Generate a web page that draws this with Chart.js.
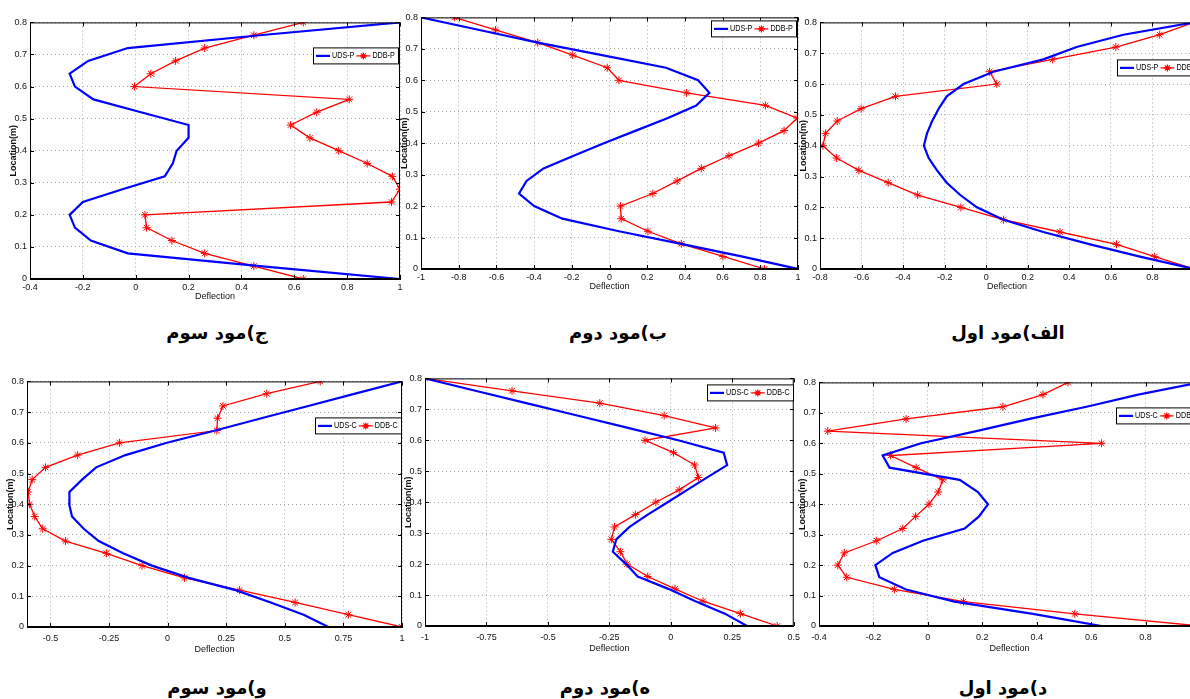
<!DOCTYPE html>
<html>
<head>
<meta charset="utf-8">
<script src="https://cdn.jsdelivr.net/npm/chart.js@4.4.0/dist/chart.umd.min.js"></script>
<style>
  html, body { margin: 0; padding: 0; background: #fff; }
  body { width: 1190px; height: 699px; overflow: hidden; position: relative; }
  .panel { position: absolute; }
  .caption {
    position: absolute; transform: translate(-50%, -50%);
    direction: rtl; white-space: nowrap;
    font: bold 18px "DejaVu Sans", "Noto Sans", sans-serif; color: #000;
  }
</style>
</head>
<body>
<script>
// location along the beam (m), shared by every curve
const loc = [0, 0.04, 0.08, 0.12, 0.16, 0.2, 0.24, 0.28, 0.32, 0.36, 0.4,
             0.44, 0.48, 0.52, 0.56, 0.6, 0.64, 0.68, 0.72, 0.76, 0.8];
const yTickVals = [0, 0.1, 0.2, 0.3, 0.4, 0.5, 0.6, 0.7, 0.8];

// top row, pinned (P)
// ج) mode 3
const udsP3 = [1.0, 0.47, -0.03, -0.17, -0.23, -0.25, -0.2, -0.05, 0.11, 0.14, 0.155,
               0.2, 0.2, 0.02, -0.16, -0.23, -0.25, -0.18, -0.03, 0.47, 1.0];
const ddbP3 = [0.634, 0.447, 0.261, 0.137, 0.041, 0.035, 0.968, 1.0, 0.971, 0.876, 0.768,
               0.659, 0.586, 0.685, 0.808, -0.005, 0.057, 0.151, 0.261, 0.447, 0.634];
// ب) mode 2
const udsP2 = [1.0, 0.7, 0.38, 0.05, -0.25, -0.4, -0.48, -0.44, -0.35, -0.19, -0.03,
               0.14, 0.31, 0.46, 0.53, 0.47, 0.3, -0.04, -0.38, -0.69, -1.0];
const ddbP2 = [0.823, 0.602, 0.381, 0.204, 0.062, 0.058, 0.23, 0.359, 0.487, 0.634, 0.791,
               0.926, 0.996, 0.827, 0.409, 0.05, -0.012, -0.195, -0.381, -0.605, -0.823];
// الف) mode 1
const udsP1 = [1.0, 0.74, 0.5, 0.275, 0.083, -0.045, -0.125, -0.19, -0.237, -0.277, -0.3,
               -0.285, -0.26, -0.229, -0.19, -0.109, 0.035, 0.275, 0.435, 0.66, 1.0];
const ddbP1 = [1.0, 0.811, 0.627, 0.355, 0.083, -0.122, -0.33, -0.472, -0.613, -0.72, -0.786,
               -0.773, -0.717, -0.602, -0.437, 0.051, 0.016, 0.32, 0.624, 0.835, 1.0];

// bottom row, clamped (C)
// و) mode 3
const udsC3 = [0.686, 0.58, 0.44, 0.29, 0.09, -0.067, -0.19, -0.294, -0.358, -0.408, -0.42,
               -0.419, -0.365, -0.305, -0.18, -0.003, 0.203, 0.4, 0.6, 0.8, 1.0];
const ddbC3 = [1.0, 0.771, 0.544, 0.307, 0.072, -0.109, -0.261, -0.436, -0.533, -0.567, -0.589,
               -0.595, -0.578, -0.521, -0.384, -0.205, 0.21, 0.213, 0.236, 0.423, 0.651];
// ه) mode 2
const udsC2 = [0.31, 0.22, 0.1, -0.01, -0.135, -0.182, -0.236, -0.222, -0.168, -0.094, -0.013,
               0.067, 0.148, 0.229, 0.215, 0.03, -0.174, -0.381, -0.588, -0.795, -1.0];
const ddbC2 = [0.433, 0.283, 0.131, 0.017, -0.094, -0.178, -0.205, -0.242, -0.229, -0.144, -0.061,
               0.034, 0.112, 0.097, 0.011, -0.105, 0.182, -0.027, -0.289, -0.646, -1.0];
// د) mode 1
const udsC1 = [0.638, 0.386, 0.098, -0.08, -0.178, -0.193, -0.129, -0.018, 0.135, 0.188, 0.221,
               0.184, 0.117, -0.141, -0.166, -0.025, 0.178, 0.374, 0.583, 0.773, 1.0];
const ddbC1 = [1.0, 0.54, 0.131, -0.123, -0.298, -0.331, -0.307, -0.188, -0.092, -0.045, 0.004,
               0.038, 0.055, -0.043, -0.137, 0.638, -0.368, -0.08, 0.276, 0.423, 0.515];

// x tick labels per panel
const xTicksP3 = [-0.4, -0.2, 0, 0.2, 0.4, 0.6, 0.8, 1];
const xTicksP2 = [-1, -0.8, -0.6, -0.4, -0.2, 0, 0.2, 0.4, 0.6, 0.8, 1];
const xTicksP1 = [-0.8, -0.6, -0.4, -0.2, 0, 0.2, 0.4, 0.6, 0.8];
const xTicksC3 = [-0.5, -0.25, 0, 0.25, 0.5, 0.75, 1];
const xTicksC2 = [-1, -0.75, -0.5, -0.25, 0, 0.25, 0.5];
const xTicksC1 = [-0.4, -0.2, 0, 0.2, 0.4, 0.6, 0.8];

// layout of each subplot: plot box [left, top, right, bottom] in page pixels
const panels = [
  { box: [30, 20, 400, 279], xMin: -0.4, xMax: 1, xTicks: xTicksP3, uds: udsP3, ddb: ddbP3,
    names: ['UDS-P', 'DDB-P'], legTop: 25, legRight: -2, caption: 'ج)مود سوم', cap: [217, 332], row: 0 },
  { box: [421, 15, 798, 269], xMin: -1, xMax: 1, xTicks: xTicksP2, uds: udsP2, ddb: ddbP2,
    names: ['UDS-P', 'DDB-P'], legTop: 3, legRight: -2, caption: 'ب)مود دوم', cap: [618, 332], row: 0 },
  { box: [820, 20, 1194, 269], xMin: -0.8, xMax: 1, xTicks: xTicksP1, uds: udsP1, ddb: ddbP1,
    names: ['UDS-P', 'DDB-P'], legTop: 37, legRight: 8, caption: 'الف)مود اول', cap: [1008, 332], row: 0 },
  { box: [27, 379, 402, 627], xMin: -0.6, xMax: 1, xTicks: xTicksC3, uds: udsC3, ddb: ddbC3,
    names: ['UDS-C', 'DDB-C'], legTop: 36, legRight: -1, caption: 'و)مود سوم', cap: [217, 687], row: 1 },
  { box: [425, 376, 796, 626], xMin: -1, xMax: 0.5, xTicks: xTicksC2, uds: udsC2, ddb: ddbC2,
    names: ['UDS-C', 'DDB-C'], legTop: 6, legRight: -1, caption: 'ه)مود دوم', cap: [605, 687], row: 1 },
  { box: [819, 380, 1200, 626], xMin: -0.4, xMax: 1, xTicks: xTicksC1, uds: udsC1, ddb: ddbC1,
    names: ['UDS-C', 'DDB-C'], legTop: 25, legRight: 2, caption: 'د)مود اول', cap: [1003, 687], row: 1 }
];

const FONT = '"Liberation Sans Narrow", "Liberation Sans", Arial, sans-serif';
const yW = 30, padTop = 6, padRight = 10;
const squeeze = 0.8; // legend text is condensed in the original

function drawStar(ctx, x, y, r) {
  ctx.beginPath();
  ctx.moveTo(x - r, y); ctx.lineTo(x + r, y);
  ctx.moveTo(x, y - r); ctx.lineTo(x, y + r);
  const d = r * 0.7071;
  ctx.moveTo(x - d, y - d); ctx.lineTo(x + d, y + d);
  ctx.moveTo(x - d, y + d); ctx.lineTo(x + d, y - d);
  ctx.stroke();
}

function squeezedText(ctx, s, x, y) {
  ctx.save();
  ctx.translate(x, y);
  ctx.scale(squeeze, 1);
  ctx.fillText(s, 0, 0);
  ctx.restore();
}

// box around the axes, inward tick marks and a matlab style legend
function makeFrame(p) {
  return {
    id: 'frame',
    afterDraw(chart) {
      const { ctx, chartArea: a, scales: { x, y } } = chart;
      ctx.save();
      ctx.strokeStyle = '#000';
      ctx.lineWidth = 1;
      ctx.strokeRect(a.left + 0.5, a.top + 0.5, a.right - a.left - 1, a.bottom - a.top - 1);
      ctx.beginPath();
      x.ticks.forEach(t => {
        const px = Math.round(x.getPixelForValue(t.value)) + 0.5;
        ctx.moveTo(px, a.bottom); ctx.lineTo(px, a.bottom - 4);
        ctx.moveTo(px, a.top); ctx.lineTo(px, a.top + 4);
      });
      y.ticks.forEach(t => {
        const py = Math.round(y.getPixelForValue(t.value)) + 0.5;
        ctx.moveTo(a.left, py); ctx.lineTo(a.left + 4, py);
        ctx.moveTo(a.right, py); ctx.lineTo(a.right - 4, py);
      });
      ctx.stroke();

      // legend
      ctx.font = '9px ' + FONT;
      const w1 = ctx.measureText(p.names[0]).width * squeeze;
      const w2 = ctx.measureText(p.names[1]).width * squeeze;
      const seg = 14, h = 16;
      const W = Math.round(3 + seg + 2 + w1 + 2 + seg + 2 + w2 + 3);
      const right = a.right + p.legRight, top = a.top + p.legTop;
      const left = Math.round(right - W);
      ctx.fillStyle = '#fff';
      ctx.fillRect(left, top, W, h);
      ctx.strokeStyle = '#000';
      ctx.strokeRect(left + 0.5, top + 0.5, W, h);
      const my = top + h / 2 + 0.5;
      let cx = left + 3;
      ctx.strokeStyle = '#0000ff'; ctx.lineWidth = 2.2;
      ctx.beginPath(); ctx.moveTo(cx, my); ctx.lineTo(cx + seg, my); ctx.stroke();
      cx += seg + 2;
      ctx.fillStyle = '#000'; ctx.textBaseline = 'middle'; ctx.textAlign = 'left';
      squeezedText(ctx, p.names[0], cx, my);
      cx += w1 + 2;
      ctx.strokeStyle = '#ff0000'; ctx.lineWidth = 1.2;
      ctx.beginPath(); ctx.moveTo(cx, my); ctx.lineTo(cx + seg, my); ctx.stroke();
      drawStar(ctx, cx + seg / 2, my, 3.5);
      cx += seg + 2;
      squeezedText(ctx, p.names[1], cx, my);
      ctx.restore();
    }
  };
}

panels.forEach(p => {
  const [L, T, R, B] = p.box;
  const xH = p.row === 0 ? 25 : 30;
  const tickPad = p.row === 0 ? 3 : 6;
  const div = document.createElement('div');
  div.className = 'panel';
  const cw = (R - L) + yW + padRight;
  const ch = (B - T) + padTop + xH;
  div.style.left = (L - yW) + 'px';
  div.style.top = (T - padTop) + 'px';
  div.style.width = cw + 'px';
  div.style.height = ch + 'px';
  const canvas = document.createElement('canvas');
  canvas.width = cw; canvas.height = ch;
  canvas.style.width = cw + 'px'; canvas.style.height = ch + 'px';
  div.appendChild(canvas);
  document.body.appendChild(div);

  const cap = document.createElement('div');
  cap.className = 'caption';
  cap.style.left = p.cap[0] + 'px';
  cap.style.top = p.cap[1] + 'px';
  cap.textContent = p.caption;
  document.body.appendChild(cap);

  const grid = { color: '#a8a8a8', lineWidth: 1, drawTicks: false };
  const border = { display: true, color: '#000', width: 1, dash: [1, 3] };

  new Chart(canvas, {
    type: 'scatter',
    data: {
      datasets: [
        {
          label: p.names[0],
          data: loc.map((v, i) => ({ x: p.uds[i], y: v })),
          showLine: true,
          borderColor: '#0000ff',
          borderWidth: 2.2,
          pointRadius: 0,
          tension: 0
        },
        {
          label: p.names[1],
          data: loc.map((v, i) => ({ x: p.ddb[i], y: v })),
          showLine: true,
          borderColor: '#ff0000',
          backgroundColor: '#ff0000',
          borderWidth: 1.3,
          pointStyle: 'star',
          pointRadius: 4,
          pointBorderWidth: 1,
          pointBorderColor: '#ff0000',
          tension: 0
        }
      ]
    },
    options: {
      responsive: false,
      animation: false,
      devicePixelRatio: 1,
      events: [],
      layout: { padding: { top: padTop, right: padRight, left: 0, bottom: 0 } },
      plugins: { legend: { display: false }, tooltip: { enabled: false } },
      scales: {
        x: {
          type: 'linear',
          min: p.xMin,
          max: p.xMax,
          afterBuildTicks: axis => { axis.ticks = p.xTicks.map(v => ({ value: v })); },
          afterFit: axis => { axis.height = xH; },
          ticks: {
            autoSkip: false, maxRotation: 0, padding: tickPad,
            color: '#111', font: { family: FONT, size: 9 },
            callback: v => String(v)
          },
          grid: grid,
          border: border,
          title: {
            display: true, text: 'Deflection', color: '#111',
            font: { family: FONT, size: 9 }, padding: { top: 0, bottom: 2 }
          }
        },
        y: {
          type: 'linear',
          min: 0,
          max: 0.8,
          afterBuildTicks: axis => { axis.ticks = yTickVals.map(v => ({ value: v })); },
          afterFit: axis => { axis.width = yW; },
          ticks: {
            padding: 3, color: '#111', font: { family: FONT, size: 9 },
            callback: v => String(v)
          },
          grid: grid,
          border: border,
          title: {
            display: true, text: 'Location(m)', color: '#111',
            font: { family: FONT, size: 9, weight: 'bold' }, padding: { top: 8, bottom: 0 }
          }
        }
      }
    },
    plugins: [makeFrame(p)]
  });
});
</script>
</body>
</html>
